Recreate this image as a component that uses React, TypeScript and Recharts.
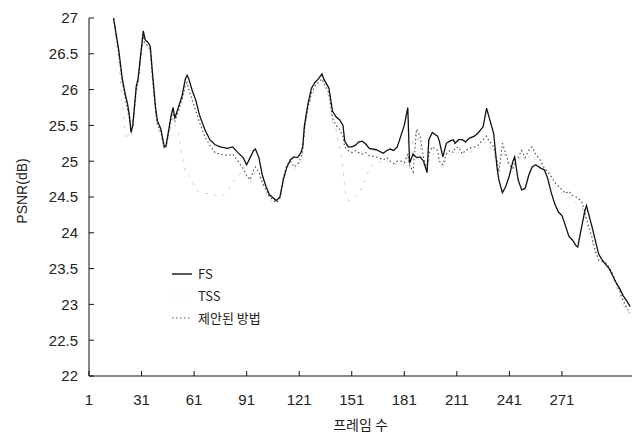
import React from 'react';
import { LineChart, Line, XAxis, YAxis, Legend } from 'recharts';

const frames = [
  15, 18, 20, 22, 23, 24, 25, 26, 28, 29,
  31, 32, 33, 35, 36, 37, 39, 40, 42, 44,
  45, 48, 49, 50, 52, 54, 56, 57, 58, 60,
  62, 64, 67, 70, 73, 76, 80, 83, 86, 89,
  91, 93, 95, 96, 98, 100, 102, 104, 108, 110,
  112, 114, 116, 118, 120, 122, 123, 124, 126, 128,
  130, 132, 134, 135, 138, 140, 142, 144, 146, 147,
  149, 151, 153, 155, 157, 159, 161, 165, 169, 171,
  173, 175, 177, 179, 181, 183, 184, 186, 188, 190,
  192, 194, 195, 197, 200, 201, 203, 205, 207, 209,
  210, 212, 214, 216, 218, 221, 223, 226, 228, 229,
  232, 234, 235, 237, 239, 241, 243, 244, 246, 248,
  250, 252, 254, 256, 259, 261, 263, 265, 267, 269,
  271, 273, 275, 277, 279, 280, 282, 284, 285, 288,
  290, 292, 294, 296, 298, 300, 302, 304, 306, 308,
  310,
];

const fsValues = [
  27.0, 26.55, 26.15, 25.9, 25.8, 25.65, 25.4, 25.5, 26.05, 26.15,
  26.6, 26.82, 26.7, 26.65, 26.6, 26.3, 25.75, 25.57, 25.45, 25.2,
  25.22, 25.65, 25.75, 25.6, 25.75, 25.9, 26.15, 26.2, 26.15, 25.98,
  25.85, 25.65, 25.45, 25.3, 25.23, 25.2, 25.18, 25.2, 25.12, 25.05,
  24.95, 25.05, 25.15, 25.17, 25.05, 24.8, 24.65, 24.53, 24.45, 24.5,
  24.75, 24.92, 25.02, 25.06, 25.05, 25.12, 25.2, 25.5, 25.8, 26.02,
  26.1, 26.15, 26.22, 26.15, 26.02, 25.7, 25.62, 25.58, 25.5, 25.28,
  25.2, 25.2, 25.22, 25.27, 25.28, 25.24, 25.18, 25.16, 25.11, 25.15,
  25.17, 25.15, 25.2, 25.35, 25.5, 25.75, 24.97, 25.1, 25.05, 25.06,
  25.0, 24.84, 25.3, 25.4, 25.35, 25.28, 25.06, 25.25, 25.28, 25.3,
  25.25, 25.3, 25.3, 25.27, 25.32, 25.35, 25.39, 25.48, 25.74, 25.65,
  25.39, 24.9, 24.74, 24.56, 24.65, 24.8, 25.0, 25.06, 24.74, 24.6,
  24.62, 24.8, 24.92, 24.95, 24.9, 24.88, 24.75, 24.55, 24.4, 24.29,
  24.24, 24.1, 23.95, 23.9, 23.82, 23.8, 24.05, 24.3, 24.38, 24.1,
  23.9, 23.7, 23.62, 23.56, 23.5, 23.4, 23.3, 23.22, 23.12, 23.05,
  22.97,
];

const tssValues = [
  27.0, 26.4, 25.8, 25.3, 25.35, 25.4, 25.35, 25.45, 25.95, 26.05,
  26.5, 26.7, 26.6, 26.55, 26.5, 26.2, 25.65, 25.5, 25.35, 25.15,
  25.15, 25.5, 25.6, 25.5, 25.4, 25.1, 24.85, 24.8, 24.8, 24.7,
  24.6, 24.57, 24.55, 24.55, 24.52, 24.5, 24.57, 24.7, 24.8, 24.85,
  24.78, 24.7, 24.8, 24.85, 24.8, 24.65, 24.55, 24.45, 24.4, 24.45,
  24.7, 24.9, 24.95, 24.9, 24.92, 25.0, 25.1, 25.4, 25.7, 25.9,
  26.0, 26.05, 26.1, 26.05, 25.9, 25.55, 25.45, 25.2, 24.9, 24.6,
  24.45, 24.45, 24.5, 24.55, 24.65, 24.75, 24.9, 25.0, 24.98, 25.0,
  24.95, 24.95, 24.97, 24.98, 24.95, 25.05, 24.9, 25.3, 25.4, 25.2,
  24.95, 24.85, 25.0, 25.1, 25.1, 24.98, 24.9, 25.05, 25.1, 25.08,
  25.1, 25.12, 25.05, 25.1, 25.12, 25.15, 25.18, 25.22, 25.28, 25.25,
  25.1, 24.95, 24.9, 25.15, 25.05, 24.9, 24.85, 24.95, 25.0, 25.1,
  25.0, 25.05, 25.1, 25.0, 24.95, 24.85, 24.8, 24.72, 24.65, 24.6,
  24.55, 24.5, 24.5, 24.45, 24.42, 24.4, 24.38, 24.25, 24.15, 23.9,
  23.7, 23.6, 23.58, 23.55, 23.5, 23.38, 23.25, 23.12, 23.0, 22.92,
  22.85,
];

const proposedValues = [
  27.0, 26.5, 26.1, 25.85, 25.72, 25.6, 25.45, 25.5, 26.0, 26.1,
  26.55, 26.75, 26.65, 26.6, 26.55, 26.25, 25.7, 25.52, 25.4, 25.18,
  25.2, 25.6, 25.7, 25.55, 25.7, 25.85, 26.05, 26.1, 26.0, 25.85,
  25.7, 25.55, 25.35, 25.22, 25.12, 25.1, 25.08, 25.1, 25.0, 24.9,
  24.8, 24.74, 24.88, 24.92, 24.85, 24.7, 24.6, 24.5, 24.42, 24.48,
  24.78, 24.95, 25.0, 24.92, 24.95, 25.05, 25.15, 25.45, 25.75, 25.95,
  26.05, 26.1, 26.15, 26.1, 25.95, 25.6, 25.5, 25.45, 25.35, 25.2,
  25.15, 25.12, 25.15, 25.12, 25.1, 25.12, 25.08, 25.06, 25.02, 25.05,
  25.0, 24.97, 25.0, 25.0, 24.98, 25.1, 24.95, 24.85, 25.45, 25.35,
  25.05, 24.9, 25.1, 25.2, 25.15, 25.0, 24.95, 25.1, 25.15, 25.12,
  25.18, 25.2, 25.1, 25.15, 25.18, 25.2, 25.22, 25.3, 25.35, 25.3,
  25.2, 25.0, 24.85, 25.25, 25.1, 24.95, 24.9, 25.0, 25.05, 25.15,
  25.05, 25.15, 25.2, 25.1, 25.0, 24.9, 24.85, 24.78, 24.7, 24.65,
  24.6, 24.55, 24.58, 24.52, 24.5, 24.48, 24.45, 24.3, 24.2, 23.95,
  23.75, 23.62, 23.6, 23.58, 23.52, 23.42, 23.3, 23.18, 23.05, 22.95,
  22.88,
];

const xTicks = [1, 31, 61, 91, 121, 151, 181, 211, 241, 271];
const yTicks = [22, 22.5, 23, 23.5, 24, 24.5, 25, 25.5, 26, 26.5, 27];

const seriesNames = { fs: 'FS', tss: 'TSS', proposed: '제안된 방법' };
const xTitle = '프레임 수';
const yTitle = 'PSNR(dB)';

const chartData = frames.map((f, i) => ({
  frame: f,
  fs: fsValues[i],
  tss: tssValues[i],
  proposed: proposedValues[i],
}));

const FONT = '"Liberation Sans", Arial, sans-serif';
const KFONT = '"Noto Sans CJK KR", "Liberation Sans", sans-serif';

const legendRows = [
  { key: 'fs', color: '#111', dash: undefined as string | undefined, width: 1.4 },
  { key: 'tss', color: '#f0f0f0', dash: '3 6', width: 1 },
  { key: 'proposed', color: '#555', dash: '1.5 2.5', width: 1.2 },
];

const renderLegend = () => (
  <div style={{ fontFamily: KFONT, fontSize: 13, color: '#222', lineHeight: '22px' }}>
    {legendRows.map((r) => (
      <div key={r.key} style={{ display: 'flex', alignItems: 'center', height: 22, whiteSpace: 'nowrap' }}>
        <svg width={22} height={10} style={{ marginRight: 4, flex: '0 0 auto' }}>
          <line x1={0} y1={5} x2={20} y2={5} stroke={r.color} strokeWidth={r.width} strokeDasharray={r.dash} />
        </svg>
        <span>{(seriesNames as any)[r.key]}</span>
      </div>
    ))}
  </div>
);

const YLabel = (props: any) => {
  const vb = props.viewBox || {};
  const cx = vb.x + 22;
  const cy = vb.y + vb.height / 2 - 6;
  return (
    <text x={cx} y={cy} transform={`rotate(-90 ${cx} ${cy})`} textAnchor="middle" dominantBaseline="central"
      style={{ fontFamily: FONT, fontSize: 14, fill: '#222' }}>
      {yTitle}
    </text>
  );
};

export default function App() {
  return (
    <div style={{ position: 'absolute', left: 0, top: 0, width: 642, height: 436, background: '#fff' }}>
      <LineChart width={642} height={436} data={chartData} margin={{ top: 18, right: 10, bottom: 0, left: 0 }}>
        <XAxis
          dataKey="frame"
          type="number"
          domain={[1, 311]}
          ticks={xTicks}
          allowDataOverflow
          tickSize={-5}
          tickMargin={23}
          height={60}
          axisLine={{ stroke: '#111', strokeWidth: 1 }}
          tickLine={{ stroke: '#111' }}
          tick={{ fill: '#222', fontSize: 15, fontFamily: FONT }}
          label={{ value: xTitle, position: 'insideBottom', offset: 6, style: { fontFamily: KFONT, fontSize: 14, fill: '#222' } }}
        />
        <YAxis
          type="number"
          domain={[22, 27]}
          ticks={yTicks}
          allowDataOverflow
          width={89}
          tickSize={-5}
          tickMargin={16}
          axisLine={{ stroke: '#111', strokeWidth: 1 }}
          tickLine={{ stroke: '#111' }}
          tick={{ fill: '#222', fontSize: 15, fontFamily: FONT }}
          label={<YLabel />}
        />
        <Legend
          content={renderLegend}
          layout="vertical"
          verticalAlign="middle"
          align="center"
          wrapperStyle={{ position: 'absolute', left: 172, top: 263, width: 130 }}
        />
        <Line type="linear" dataKey="tss" name={seriesNames.tss} stroke="#d2d2d2" strokeWidth={1} strokeDasharray="3 6" dot={false} isAnimationActive={false} />
        <Line type="linear" dataKey="proposed" name={seriesNames.proposed} stroke="#555" strokeWidth={1.2} strokeDasharray="1.5 2.5" dot={false} isAnimationActive={false} />
        <Line type="linear" dataKey="fs" name={seriesNames.fs} stroke="#111" strokeWidth={1.3} dot={false} isAnimationActive={false} />
      </LineChart>
    </div>
  );
}
